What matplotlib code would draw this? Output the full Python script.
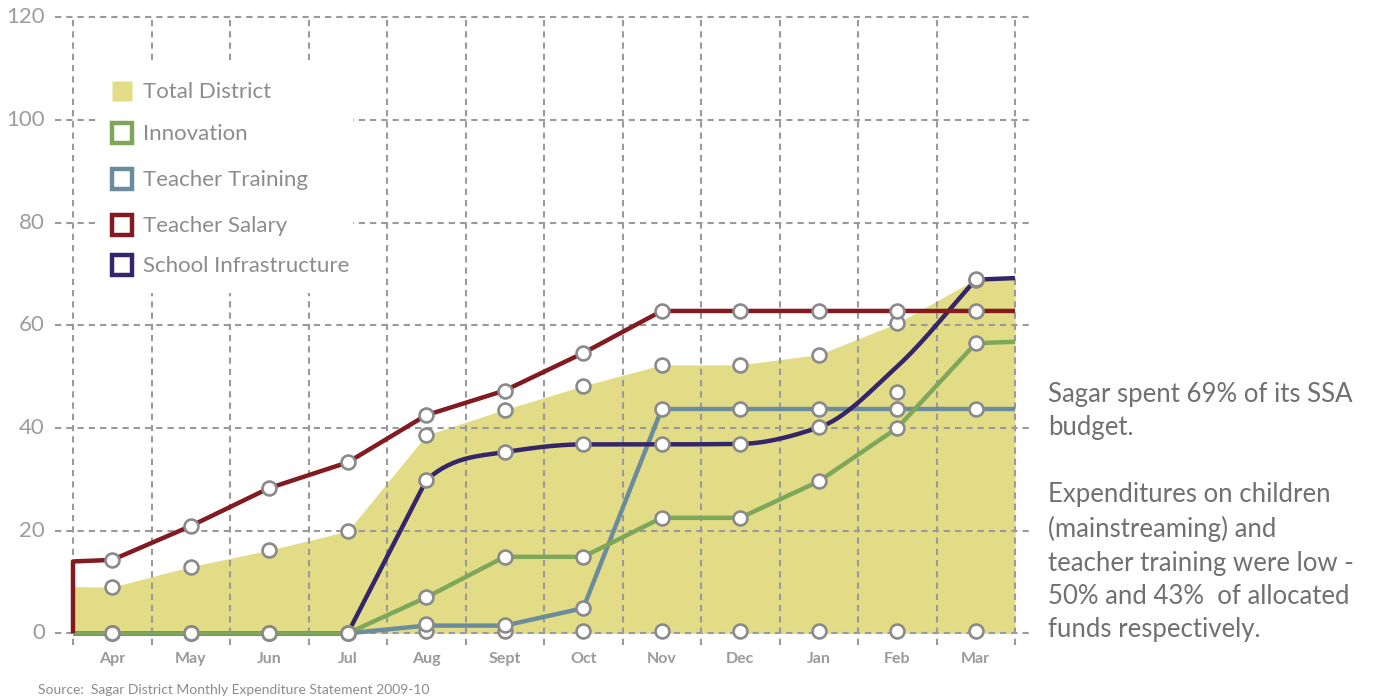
import numpy as np
import matplotlib.pyplot as plt
from matplotlib.patches import Rectangle
from matplotlib.lines import Line2D

plt.rcParams['font.family'] = ['Lato', 'DejaVu Sans']

# data (percent of budget spent, cumulative)
months = ['Apr', 'May', 'Jun', 'Jul', 'Aug', 'Sept', 'Oct', 'Nov', 'Dec', 'Jan', 'Feb', 'Mar']
total = [9.0, 13.0, 16.2, 19.9, 38.6, 43.6, 48.2, 52.3, 52.3, 54.3, 60.4, 69.0]
total_start = 9.1
innovation = [0, 0, 0, 0, 7.0, 14.9, 14.9, 22.5, 22.5, 29.6, 40.0, 56.5]
innovation_end = 56.8
training = [0, 0, 0, 0, 1.5, 1.5, 4.9, 43.7, 43.7, 43.7, 43.7, 43.7]
training_marks = [0, 0, 0, 0, 1.9, 1.6, 4.9, 43.7, 43.7, 43.7, 43.7, 43.7]
salary = [14.3, 20.9, 28.3, 33.3, 42.5, 47.3, 54.6, 62.8, 62.8, 62.8, 62.8, 62.8]
salary_start = 14.0
infra = [0, 0, 0, 0, 29.8, 35.3, 36.8, 36.8, 36.9, 40.1, 52.0, 68.9]
infra_marks = [0, 0, 0, 0, 29.8, 35.3, 36.8, 36.8, 36.9, 40.1, 47.1, 68.9]
infra_end = 69.2
other = [0, 0, 0, 0, 0.4, 0.4, 0.4, 0.4, 0.4, 0.4, 0.4, 0.4]

yticks = [0, 20, 40, 60, 80, 100, 120]

c_total = '#e2dc86'
c_innov = '#7fa75b'
c_train = '#6b8c9c'
c_salary = '#821a1f'
c_infra = '#35266b'
c_grid = '#9a9a9a'


def pchip(x, y, xs, m0=None):
    x = np.asarray(x, float)
    y = np.asarray(y, float)
    h = np.diff(x)
    d = np.diff(y) / h
    m = np.zeros_like(y)
    for k in range(1, len(x) - 1):
        if d[k - 1] * d[k] > 0:
            w1 = 2 * h[k] + h[k - 1]
            w2 = h[k] + 2 * h[k - 1]
            m[k] = (w1 + w2) / (w1 / d[k - 1] + w2 / d[k])
    m[0] = d[0] if m0 is None else m0
    m[-1] = d[-1]
    i = np.clip(np.searchsorted(x, xs) - 1, 0, len(h) - 1)
    t = (xs - x[i]) / h[i]
    return ((2 * t**3 - 3 * t**2 + 1) * y[i] + (t**3 - 2 * t**2 + t) * h[i] * m[i]
            + (-2 * t**3 + 3 * t**2) * y[i + 1] + (t**3 - t**2) * h[i] * m[i + 1])


W, H = 1374, 700
fig = plt.figure(figsize=(W / 100, H / 100), dpi=100)
# pixel layout: x=0 -> 73px, 1 month = 78.5px ; y=0 -> 633px, 1 unit = 5.13px
ax = fig.add_axes([55 / W, 1 - 645 / H, 975 / W, 630 / H])
xlo, xhi = (55 - 73) / 78.5, (1030 - 73) / 78.5
ylo, yhi = (633.3 - 645) / 5.133, (633.3 - 15) / 5.133
ax.set_xlim(xlo, xhi)
ax.set_ylim(ylo, yhi)
ax.axis('off')


def fpx(x, y):
    return x / W, 1 - y / H


n = len(months)
xc = np.arange(n) + 0.5
xe = np.concatenate([[0], xc, [n]])

# area
ax.fill_between(xe, 0, [total_start] + total + [total[-1]], color=c_total, lw=0, zorder=1)

# grid
dash = (0, (3.0, 2.4))
for v in yticks:
    ax.plot([xlo, xhi], [v, v], color=c_grid, lw=1.5, ls=dash, zorder=2)
for k in range(n + 1):
    ax.plot([k, k], [ylo, 120], color=c_grid, lw=1.5, ls=dash, zorder=2)

# legend box hides grid
ax.add_patch(Rectangle(fpx(100, 293), 253 / W, 231 / H, transform=fig.transFigure,
                       facecolor='white', edgecolor='none', zorder=2.5))

lw = 3.2
ax.plot(xe, [0] + training + [training[-1]], color=c_train, lw=lw, zorder=3, solid_capstyle='butt')
# infrastructure: flat, straight rise to Aug, smooth curve Aug..Mar, flat
xs = np.linspace(xc[4], xc[-1], 200)
ys = pchip(xc[4:], infra[4:], xs, m0=14.0)
ax.plot(np.concatenate([[0, xc[3]], xs, [n]]), np.concatenate([[0, infra[3]], ys, [infra_end]]),
        color=c_infra, lw=lw, zorder=3.1, solid_capstyle='butt', solid_joinstyle='round')
ax.plot(xe, [0] + innovation + [innovation_end], color=c_innov, lw=lw, zorder=3.2, solid_capstyle='butt')
ax.plot(np.concatenate([[0, 0], xc, [n]]), [0, salary_start] + salary + [salary[-1]],
        color=c_salary, lw=lw, zorder=3.3, solid_capstyle='butt')

mk = dict(ls='none', marker='o', ms=10, mfc='white', mec='#8a8a8a', mew=1.9, zorder=4)
for vals in [other, training_marks, innovation, infra_marks, total, salary]:
    ax.plot(xc, vals, **mk)

# axis labels
for v in yticks:
    ax.text((45 - 73) / 78.5, v, str(v), ha='right', va='center', fontsize=16,
            color='#9c9c9c', clip_on=False)
for x, m in zip(xc, months):
    ax.text(x, (633.3 - 659) / 5.133, m, ha='center', va='center', fontsize=11.5,
            fontweight='bold', color='#9a9a9a', clip_on=False)

# legend
legend_items = [('Total District', c_total, True), ('Innovation', c_innov, False),
                ('Teacher Training', c_train, False), ('Teacher Salary', c_salary, False),
                ('School Infrastructure', c_infra, False)]
rows = [92, 134, 180, 226, 266]
for (label, col, filled), yy in zip(legend_items, rows):
    if filled:
        ax.add_artist(Line2D([122 / W], [1 - (yy - 1) / H], transform=fig.transFigure, marker='s',
                             ms=15, mfc=col, mec='none', ls='none', zorder=5))
    else:
        ax.add_artist(Line2D([122 / W], [1 - (yy - 1) / H], transform=fig.transFigure, marker='s',
                             ms=15, mfc='white', mec=col, mew=3.2, ls='none', zorder=5))
    ax.text(143 / W, 1 - yy / H, label, transform=fig.transFigure, ha='left', va='center',
            fontsize=16, color='#8c8c8c', zorder=5)

fig.text(1048 / W, 1 - 382 / H,
         'Sagar spent 69% of its SSA\nbudget.\n\nExpenditures on children\n(mainstreaming) and\n'
         'teacher training were low -\n50% and 43%  of allocated\nfunds respectively.',
         ha='left', va='top', fontsize=18.5, color='#707070', linespacing=1.42)

fig.text(38 / W, 1 - 690 / H, 'Source:  Sagar District Monthly Expenditure Statement 2009-10',
         ha='left', va='center', fontsize=10, color='#8c8c8c')

fig.savefig('out.png', dpi=100)
